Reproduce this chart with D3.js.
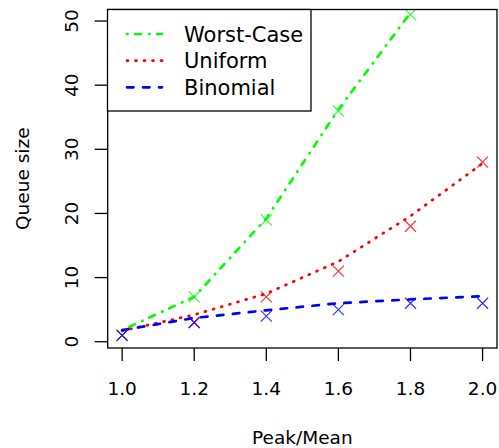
<!DOCTYPE html>
<html><head><meta charset="utf-8">
<script src="https://cdn.jsdelivr.net/npm/d3@7"></script>
<style>html,body{margin:0;padding:0;background:#fff;}svg{display:block;}text{font-family:"DejaVu Sans",sans-serif;}</style>
</head><body><svg id="c" width="499" height="448"></svg>
<script>
const xValues = [1.0, 1.2, 1.4, 1.6, 1.8, 2.0];
const xTicks = [1.0, 1.2, 1.4, 1.6, 1.8, 2.0];
const yTicks = [0, 10, 20, 30, 40, 50];
const worstPoints = [1, 7, 19, 36, 51];
const uniformPoints = [1, 3, 7, 11, 18, 28];
const binomialPoints = [1, 3, 4, 5, 6, 6];
const worstFit = [1.8, 7, 19.2, 36.2, 51.3];
const uniformFit = [1.7, 4.2, 7.5, 12.5, 19.6, 27.8];
const binomialFit = [1.8, 3.7, 4.9, 6.0, 6.6, 7.1];
const seriesNames = ["Worst-Case", "Uniform", "Binomial"];
const seriesColors = ["#00ff00", "#ff0000", "#0000ff"];
const seriesDash = ["0.5,7.5,6,8", "1,7.5", "6.5,9.5"];

const L = 107.7, R = 497, T = 9.5, B = 348;
const x = d3.scaleLinear().domain([0.96, 2.04]).range([L, R]);
const y = d3.scaleLinear().domain([-0.98, 51.8]).range([B, T]);
const svg = d3.select("#c");
const fs = 18.5, lfs = 21;

svg.append("defs").append("clipPath").attr("id","clip")
  .append("rect").attr("x",L).attr("y",T).attr("width",R-L).attr("height",B-T);
const plot = svg.append("g").attr("clip-path","url(#clip)");

const fits = [worstFit, uniformFit, binomialFit];
const pts = [worstPoints, uniformPoints, binomialPoints];
const line = d3.line().x(d=>x(d[0])).y(d=>y(d[1]));

fits.forEach((f,i)=>{
  plot.append("path").datum(f.map((v,j)=>[xValues[j],v]))
    .attr("d", line).attr("fill","none")
    .attr("stroke", seriesColors[i]).attr("stroke-width",2.7)
    .attr("stroke-dasharray", seriesDash[i]).attr("stroke-linecap","round");
});
const s = 5.5;
pts.forEach((p,i)=>{
  plot.selectAll(null).data(p.map((v,j)=>[xValues[j],v])).enter().append("path")
    .attr("d", d=>{const cx=x(d[0]), cy=y(d[1]);
      return `M${cx-s},${cy-s}L${cx+s},${cy+s}M${cx-s},${cy+s}L${cx+s},${cy-s}`;})
    .attr("stroke", seriesColors[i]).attr("stroke-width",1.2).attr("fill","none")
    .attr("opacity",0.8);
});

// box
svg.append("rect").attr("x",L).attr("y",T).attr("width",R-L).attr("height",B-T)
  .attr("fill","none").attr("stroke","#000").attr("stroke-width",1.3);

// x axis
const xa = svg.append("g");
xTicks.forEach(t=>{
  xa.append("line").attr("x1",x(t)).attr("x2",x(t)).attr("y1",B).attr("y2",B+13)
    .attr("stroke","#000").attr("stroke-width",1.3);
  xa.append("text").attr("x",x(t)).attr("y",395).attr("text-anchor","middle")
    .attr("font-size",fs).text(d3.format(".1f")(t));
});
// y axis
const ya = svg.append("g");
yTicks.forEach(t=>{
  ya.append("line").attr("x1",L-13).attr("x2",L).attr("y1",y(t)).attr("y2",y(t))
    .attr("stroke","#000").attr("stroke-width",1.3);
  ya.append("text").attr("transform",`translate(78,${y(t)}) rotate(-90)`)
    .attr("text-anchor","middle").attr("font-size",fs).text(t);
});
svg.append("text").attr("x",(L+R)/2).attr("y",444).attr("text-anchor","middle")
  .attr("font-size",fs).text("Peak/Mean");
svg.append("text").attr("transform",`translate(29,${(T+B)/2}) rotate(-90)`)
  .attr("text-anchor","middle").attr("font-size",fs).text("Queue size");

// legend
const lg = svg.append("g");
lg.append("rect").attr("x",107.5).attr("y",T).attr("width",203.5).attr("height",101.5)
  .attr("fill","#fff").attr("stroke","#000").attr("stroke-width",1.3);
const rowsY = [34, 60.7, 87.3];
seriesNames.forEach((n,i)=>{
  lg.append("line").attr("x1",127).attr("x2",162).attr("y1",rowsY[i]).attr("y2",rowsY[i])
    .attr("stroke",seriesColors[i]).attr("stroke-width",2.7).attr("stroke-linecap","round")
    .attr("stroke-dasharray",seriesDash[i]);
  lg.append("text").attr("x",184).attr("y",rowsY[i]).attr("dy","0.36em")
    .attr("font-size",lfs).text(n);
});
</script></body></html>
